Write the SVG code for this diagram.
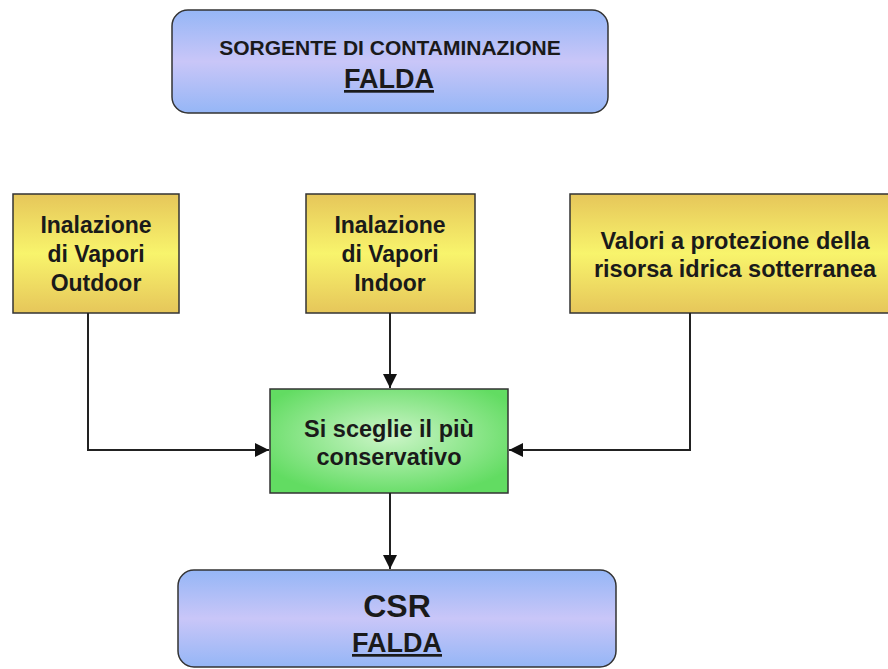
<svg xmlns="http://www.w3.org/2000/svg" width="888" height="669" viewBox="0 0 888 669">
<defs>
<linearGradient id="gBlue" x1="0" y1="0" x2="0" y2="1">
<stop offset="0" stop-color="#95b6f6"/>
<stop offset="0.5" stop-color="#c9c6f8"/>
<stop offset="1" stop-color="#95b6f6"/>
</linearGradient>
<linearGradient id="gYellow" x1="0" y1="0" x2="0" y2="1">
<stop offset="0" stop-color="#e6c65a"/>
<stop offset="0.5" stop-color="#f8f46c"/>
<stop offset="1" stop-color="#e6c65a"/>
</linearGradient>
<radialGradient id="gGreen" cx="0.5" cy="0.45" r="0.6">
<stop offset="0" stop-color="#ccf5c8"/>
<stop offset="1" stop-color="#62dc62"/>
</radialGradient>
<marker id="arr" viewBox="0 0 10 10" refX="10" refY="5" markerWidth="14" markerHeight="14" markerUnits="userSpaceOnUse" orient="auto">
<path d="M0,0 L10,5 L0,10 z" fill="#111"/>
</marker>
</defs>
<style>
.box{stroke:#333;stroke-width:1.5}
.t{font-family:"Liberation Sans",Arial,sans-serif;font-weight:bold;fill:#1a1a1a;text-anchor:middle}
.c{fill:none;stroke:#222;stroke-width:2}
</style>
<rect width="888" height="669" fill="#fff"/>
<g id="sorgente">
<rect class="box" x="172" y="10" width="436" height="103" rx="16" fill="url(#gBlue)"/>
<text class="t" x="390" y="55" font-size="21">SORGENTE DI CONTAMINAZIONE</text>
<text class="t" x="389" y="88" font-size="27" text-decoration="underline">FALDA</text>
</g>
<g id="outdoor">
<rect class="box" x="13" y="194" width="166" height="119" fill="url(#gYellow)"/>
<text class="t" x="96" y="233" font-size="23">Inalazione</text>
<text class="t" x="96" y="262" font-size="23">di Vapori</text>
<text class="t" x="96" y="291" font-size="23">Outdoor</text>
</g>
<g id="indoor">
<rect class="box" x="306" y="194" width="169" height="119" fill="url(#gYellow)"/>
<text class="t" x="390" y="233" font-size="23">Inalazione</text>
<text class="t" x="390" y="262" font-size="23">di Vapori</text>
<text class="t" x="390" y="291" font-size="23">Indoor</text>
</g>
<g id="risorsa">
<rect class="box" x="570" y="194" width="330" height="119" fill="url(#gYellow)"/>
<text class="t" x="735" y="249" font-size="23.5">Valori a protezione della</text>
<text class="t" x="735" y="277" font-size="23.5">risorsa idrica sotterranea</text>
</g>
<g id="scelta">
<rect class="box" x="270" y="389" width="238" height="104" fill="url(#gGreen)"/>
<text class="t" x="389" y="437" font-size="23.5">Si sceglie il più</text>
<text class="t" x="389" y="465" font-size="23.5">conservativo</text>
</g>
<g id="csr">
<rect class="box" x="178" y="570" width="438" height="97" rx="16" fill="url(#gBlue)"/>
<text class="t" x="397" y="617" font-size="32">CSR</text>
<text class="t" x="397" y="652" font-size="27" text-decoration="underline">FALDA</text>
</g>
<g id="connectors">
<path class="c" d="M88,313 V450 H269" marker-end="url(#arr)"/>
<path class="c" d="M390,313 V388" marker-end="url(#arr)"/>
<path class="c" d="M690,313 V450 H509" marker-end="url(#arr)"/>
<path class="c" d="M390,493 V569" marker-end="url(#arr)"/>
</g>
</svg>
